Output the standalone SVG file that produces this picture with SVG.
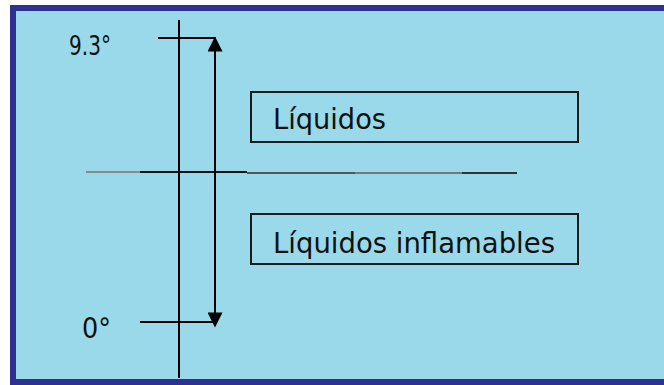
<svg xmlns="http://www.w3.org/2000/svg" width="664" height="385" viewBox="0 0 664 385">
<style>
.t{font-family:"DejaVu Sans","Liberation Sans",sans-serif;fill:#111;}
.ln{stroke:#000;stroke-width:2;fill:none;}
.box{fill:none;stroke:#1a1a1a;stroke-width:2;}
</style>
<defs>
<marker id="ah2" viewBox="0 0 10 10" refX="9" refY="5" markerWidth="17" markerHeight="15" orient="auto" markerUnits="userSpaceOnUse">
<path d="M0,0 L10,5 L0,10 Z" fill="#000"/>
</marker>
</defs>
<rect x="0" y="0" width="664" height="385" fill="#ffffff"/>
<rect x="10" y="5" width="654" height="380" fill="#99D9EA"/>
<path d="M664,8 H13 V382 H664" fill="none" stroke="#2E3192" stroke-width="6"/>
<g id="connectors">
<line class="ln" x1="179" y1="20" x2="179" y2="378"/>
<line class="ln" x1="158" y1="38" x2="216" y2="38"/>
<line class="ln" x1="140" y1="322" x2="216" y2="322"/>
<line x1="86" y1="172" x2="140" y2="172" stroke="#8a8a8a" stroke-width="2"/>
<line x1="140" y1="172" x2="247" y2="172" stroke="#111" stroke-width="2"/>
<line x1="247" y1="173" x2="355" y2="173" stroke="#555" stroke-width="2"/>
<line x1="355" y1="173" x2="462" y2="173" stroke="#777" stroke-width="2"/>
<line x1="462" y1="173" x2="517" y2="173" stroke="#333" stroke-width="2"/>
<line class="ln" x1="215" y1="180" x2="215" y2="38" marker-end="url(#ah2)"/>
<line class="ln" x1="215" y1="180" x2="215" y2="326" marker-end="url(#ah2)"/>
</g>
<g id="label-93">
<text class="t" x="69" y="55" font-size="26" textLength="42" lengthAdjust="spacingAndGlyphs">9.3°</text>
</g>
<g id="label-0">
<text class="t" x="82" y="338" font-size="28" textLength="29" lengthAdjust="spacingAndGlyphs">0°</text>
</g>
<g id="node-liquidos">
<rect class="box" x="251" y="92" width="327" height="50"/>
<text class="t" x="273" y="129" font-size="29" textLength="113" lengthAdjust="spacingAndGlyphs">Líquidos</text>
</g>
<g id="node-inflamables">
<rect class="box" x="251" y="214" width="327" height="50"/>
<text class="t" x="273" y="253" font-size="29" textLength="282" lengthAdjust="spacingAndGlyphs">Líquidos inflamables</text>
</g>
</svg>
